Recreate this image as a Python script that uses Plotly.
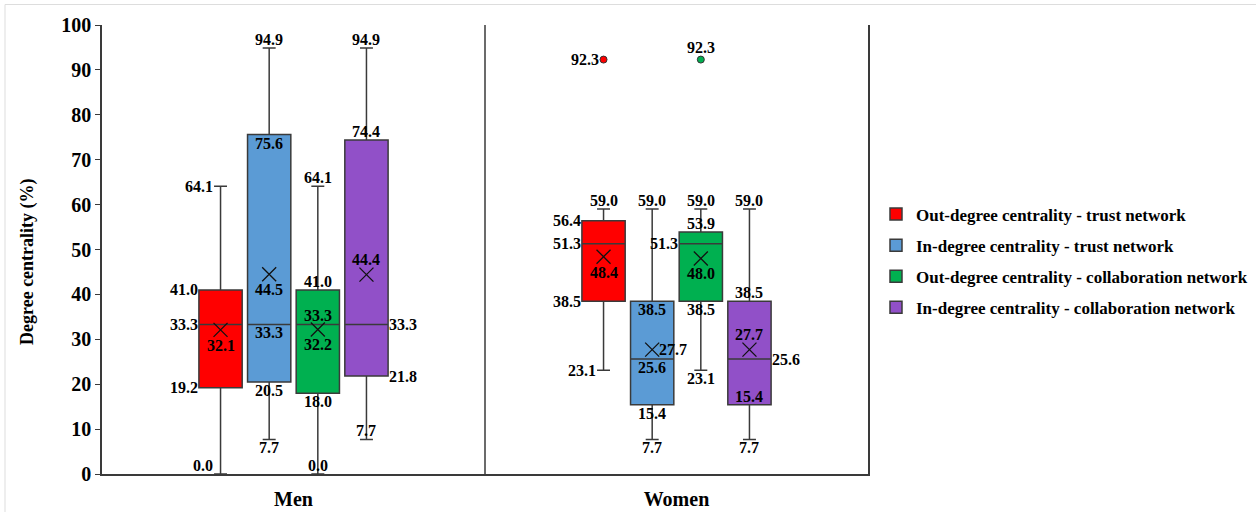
import plotly.graph_objects as go

# ---------------- data ----------------
groups = ["Men", "Women"]
series_names = [
    "Out-degree centrality - trust network",
    "In-degree centrality - trust network",
    "Out-degree centrality - collaboration network",
    "In-degree centrality - collaboration network",
]
mins    = [[0.0, 23.1], [7.7, 7.7], [0.0, 23.1], [7.7, 7.7]]
q1s     = [[19.2, 38.5], [20.5, 15.4], [18.0, 38.5], [21.8, 15.4]]
medians = [[33.3, 51.3], [33.3, 25.6], [33.3, 51.3], [33.3, 25.6]]
q3s     = [[41.0, 56.4], [75.6, 38.5], [41.0, 53.9], [74.4, 38.5]]
maxs    = [[64.1, 59.0], [94.9, 59.0], [64.1, 59.0], [94.9, 59.0]]
means   = [[32.1, 48.4], [44.5, 27.7], [32.2, 48.0], [44.4, 27.7]]
outliers = [[None, 92.3], [None, None], [None, 92.3], [None, None]]

y_ticks = list(range(0, 101, 10))
y_title = "Degree centrality (%)"

# ---------------- styles ----------------
colors = ["#FF0000", "#5B9BD5", "#00B050", "#9150C8"]
FONT = "Times New Roman, Liberation Serif, serif"
pitch = 0.127
box_w = 0.113

# label placement codes per series / group for: min, q1, median, q3, max, mean, outlier
placements = [
    [["lcb", "lb", "lb", "lb", "lc", "bx", None], ["lc", "lb", "lb", "lb", "a", "bx", "lo"]],
    [["b", "b", "b", "b", "a", "bx", None], ["b", "b", "b", "b", "a", "rx", None]],
    [["a", "b", "a", "a", "a", "bx", None], ["b", "b", "lb", "a", "a", "bx", "ao"]],
    [["a", "rb", "rb", "a", "a", "ax", None], ["b", "a", "rb", "a", "a", "ax", None]],
]

fig = go.Figure()

annotations = []
for k, name in enumerate(series_names):
    xs = [g + (k - 1.5) * pitch for g in range(len(groups))]
    fig.add_trace(go.Box(
        name=f"<b>{name}</b>", x=xs,
        q1=q1s[k], median=medians[k], q3=q3s[k],
        lowerfence=mins[k], upperfence=maxs[k],
        width=box_w, whiskerwidth=0.3,
        fillcolor=colors[k],
        line=dict(color="#3a3a3a", width=1.5),
        legendgroup=str(k), showlegend=True,
        boxpoints=False, hoverinfo="skip",
    ))
    # mean markers
    fig.add_trace(go.Scatter(
        x=xs, y=means[k], mode="markers", showlegend=False, hoverinfo="skip",
        marker=dict(symbol="x-thin-open", size=14, color="#111",
                    line=dict(width=1.3, color="#111")),
    ))
    # outliers
    ox = [x for x, o in zip(xs, outliers[k]) if o is not None]
    oy = [o for o in outliers[k] if o is not None]
    if ox:
        fig.add_trace(go.Scatter(
            x=ox, y=oy, mode="markers", showlegend=False, hoverinfo="skip",
            marker=dict(symbol="circle", size=7, color=colors[k],
                        line=dict(width=1, color="#333")),
        ))
    # labels
    for g in range(len(groups)):
        vals = [mins[k][g], q1s[k][g], medians[k][g], q3s[k][g], maxs[k][g],
                means[k][g], outliers[k][g]]
        for v, code in zip(vals, placements[k][g]):
            if code is None or v is None:
                continue
            a = dict(x=xs[g], y=v, xref="x", yref="y", text=f"<b>{v:.1f}</b>",
                     showarrow=False,
                     font=dict(family=FONT, size=16, color="#000"),
                     xanchor="center", yanchor="middle", xshift=0, yshift=0)
            if code == "lc":
                a.update(xanchor="right", xshift=-6)
            elif code == "lcb":
                a.update(xanchor="right", xshift=-6, yanchor="bottom", yshift=-2)
            elif code == "lb":
                a.update(xanchor="right", xshift=-21)
            elif code == "rb":
                a.update(xanchor="left", xshift=21)
            elif code == "a":
                a.update(yanchor="bottom", yshift=-2)
            elif code == "b":
                a.update(yanchor="top", yshift=2)
            elif code == "bx":
                a.update(yanchor="top", yshift=-5)
            elif code == "ax":
                a.update(yanchor="bottom", yshift=5)
            elif code == "rx":
                a.update(xanchor="left", xshift=5)
            elif code == "lo":
                a.update(xanchor="right", xshift=-3)
            elif code == "ao":
                a.update(yanchor="bottom", yshift=2)
            annotations.append(a)

L, R, T, B = 102, 388, 25, 38
W, H = 1256, 512
pw, ph = W - L - R, H - T - B

# y-axis title as rotated annotation (centred slightly below plot middle, as in reference)
annotations.append(dict(
    xref="paper", yref="paper", x=(27 - L) / pw, y=(H - B - 262) / ph,
    text=f"<b>{y_title}</b>", textangle=-90, showarrow=False,
    xanchor="center", yanchor="middle",
    font=dict(family=FONT, size=18, color="#000"),
))

shapes = [
    dict(type="line", xref="x", yref="paper", x0=0.5, x1=0.5, y0=0, y1=1,
         line=dict(color="#3a3a3a", width=1.5)),
    dict(type="rect", xref="paper", yref="paper",
         x0=(5 - L) / pw, x1=(W + 10 - L) / pw,
         y0=-(H + 10 - T - ph) / ph, y1=(H - B - 4.5) / ph,
         line=dict(color="#dddddd", width=1)),
]

fig.update_layout(
    width=W, height=H,
    margin=dict(l=L, r=R, t=T, b=B, autoexpand=False),
    paper_bgcolor="white", plot_bgcolor="white",
    font=dict(family=FONT, color="#000"),
    showlegend=True,
    legend=dict(x=(876 - L) / pw, xanchor="left", y=(H - B - 261) / ph, yanchor="middle",
                font=dict(family=FONT, size=17, color="#000"),
                traceorder="grouped", tracegroupgap=6,
                bgcolor="rgba(0,0,0,0)"),
    annotations=annotations,
    shapes=shapes,
)
fig.update_xaxes(
    range=[-0.5, 1.5], tickmode="array", tickvals=list(range(len(groups))),
    ticktext=[f"<b>{g}</b>" for g in groups],
    tickfont=dict(family=FONT, size=20, color="#000"),
    showline=True, linecolor="#3a3a3a", linewidth=1.5, mirror=False,
    ticks="outside", ticklen=6, tickcolor="rgba(0,0,0,0)",
    showgrid=False, zeroline=False, automargin=False,
)
fig.update_yaxes(
    range=[0, 100], tickmode="array", tickvals=y_ticks,
    ticktext=[f"<b>{t}</b>" for t in y_ticks],
    tickfont=dict(family=FONT, size=20, color="#000"),
    showline=True, linecolor="#3a3a3a", linewidth=1.5, mirror=True,
    ticks="outside", ticklen=5, tickcolor="#3a3a3a",
    showgrid=False, zeroline=False, automargin=False,
)

fig.write_html(
    "out.html",
    config={"displayModeBar": False},
    post_script="document.body.style.margin='0';document.body.style.overflow='hidden';",
)
